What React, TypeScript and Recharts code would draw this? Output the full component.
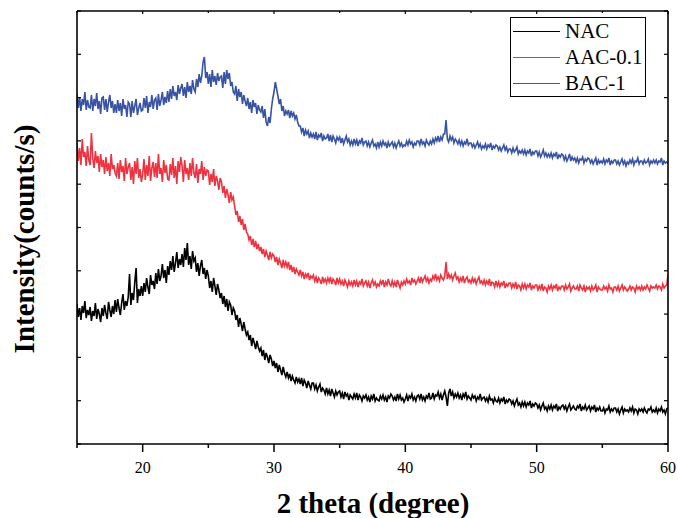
import React from 'react';
import { LineChart, Line, XAxis, YAxis, Legend, Customized } from 'recharts';

const twoTheta = [
  15, 15.1, 15.2, 15.3, 15.4, 15.5, 15.6, 15.7, 15.8, 15.9,
  16, 16.1, 16.2, 16.3, 16.4, 16.5, 16.6, 16.7, 16.8, 16.9,
  17, 17.1, 17.2, 17.3, 17.4, 17.5, 17.6, 17.7, 17.8, 17.9,
  18, 18.1, 18.2, 18.3, 18.4, 18.5, 18.6, 18.7, 18.8, 18.9,
  19, 19.1, 19.2, 19.3, 19.4, 19.5, 19.6, 19.7, 19.8, 19.9,
  20, 20.1, 20.2, 20.3, 20.4, 20.5, 20.6, 20.7, 20.8, 20.9,
  21, 21.1, 21.2, 21.3, 21.4, 21.5, 21.6, 21.7, 21.8, 21.9,
  22, 22.1, 22.2, 22.3, 22.4, 22.5, 22.6, 22.7, 22.8, 22.9,
  23, 23.1, 23.2, 23.3, 23.4, 23.5, 23.6, 23.7, 23.8, 23.9,
  24, 24.1, 24.2, 24.3, 24.4, 24.5, 24.6, 24.7, 24.8, 24.9,
  25, 25.1, 25.2, 25.3, 25.4, 25.5, 25.6, 25.7, 25.8, 25.9,
  26, 26.1, 26.2, 26.3, 26.4, 26.5, 26.6, 26.7, 26.8, 26.9,
  27, 27.1, 27.2, 27.3, 27.4, 27.5, 27.6, 27.7, 27.8, 27.9,
  28, 28.1, 28.2, 28.3, 28.4, 28.5, 28.6, 28.7, 28.8, 28.9,
  29, 29.1, 29.2, 29.3, 29.4, 29.5, 29.6, 29.7, 29.8, 29.9,
  30, 30.1, 30.2, 30.3, 30.4, 30.5, 30.6, 30.7, 30.8, 30.9,
  31, 31.1, 31.2, 31.3, 31.4, 31.5, 31.6, 31.7, 31.8, 31.9,
  32, 32.1, 32.2, 32.3, 32.4, 32.5, 32.6, 32.7, 32.8, 32.9,
  33, 33.1, 33.2, 33.3, 33.4, 33.5, 33.6, 33.7, 33.8, 33.9,
  34, 34.1, 34.2, 34.3, 34.4, 34.5, 34.6, 34.7, 34.8, 34.9,
  35, 35.1, 35.2, 35.3, 35.4, 35.5, 35.6, 35.7, 35.8, 35.9,
  36, 36.1, 36.2, 36.3, 36.4, 36.5, 36.6, 36.7, 36.8, 36.9,
  37, 37.1, 37.2, 37.3, 37.4, 37.5, 37.6, 37.7, 37.8, 37.9,
  38, 38.1, 38.2, 38.3, 38.4, 38.5, 38.6, 38.7, 38.8, 38.9,
  39, 39.1, 39.2, 39.3, 39.4, 39.5, 39.6, 39.7, 39.8, 39.9,
  40, 40.1, 40.2, 40.3, 40.4, 40.5, 40.6, 40.7, 40.8, 40.9,
  41, 41.1, 41.2, 41.3, 41.4, 41.5, 41.6, 41.7, 41.8, 41.9,
  42, 42.1, 42.2, 42.3, 42.4, 42.5, 42.6, 42.7, 42.8, 42.9,
  43, 43.1, 43.2, 43.3, 43.4, 43.5, 43.6, 43.7, 43.8, 43.9,
  44, 44.1, 44.2, 44.3, 44.4, 44.5, 44.6, 44.7, 44.8, 44.9,
  45, 45.1, 45.2, 45.3, 45.4, 45.5, 45.6, 45.7, 45.8, 45.9,
  46, 46.1, 46.2, 46.3, 46.4, 46.5, 46.6, 46.7, 46.8, 46.9,
  47, 47.1, 47.2, 47.3, 47.4, 47.5, 47.6, 47.7, 47.8, 47.9,
  48, 48.1, 48.2, 48.3, 48.4, 48.5, 48.6, 48.7, 48.8, 48.9,
  49, 49.1, 49.2, 49.3, 49.4, 49.5, 49.6, 49.7, 49.8, 49.9,
  50, 50.1, 50.2, 50.3, 50.4, 50.5, 50.6, 50.7, 50.8, 50.9,
  51, 51.1, 51.2, 51.3, 51.4, 51.5, 51.6, 51.7, 51.8, 51.9,
  52, 52.1, 52.2, 52.3, 52.4, 52.5, 52.6, 52.7, 52.8, 52.9,
  53, 53.1, 53.2, 53.3, 53.4, 53.5, 53.6, 53.7, 53.8, 53.9,
  54, 54.1, 54.2, 54.3, 54.4, 54.5, 54.6, 54.7, 54.8, 54.9,
  55, 55.1, 55.2, 55.3, 55.4, 55.5, 55.6, 55.7, 55.8, 55.9,
  56, 56.1, 56.2, 56.3, 56.4, 56.5, 56.6, 56.7, 56.8, 56.9,
  57, 57.1, 57.2, 57.3, 57.4, 57.5, 57.6, 57.7, 57.8, 57.9,
  58, 58.1, 58.2, 58.3, 58.4, 58.5, 58.6, 58.7, 58.8, 58.9,
  59, 59.1, 59.2, 59.3, 59.4, 59.5, 59.6, 59.7, 59.8, 59.9,
  60,
];

const nac = [
  140, 127, 136, 124, 138, 131, 143, 126, 134, 129,
  137, 123, 133, 128, 141, 125, 135, 130, 122, 136,
  128, 139, 131, 125, 142, 134, 127, 138, 130, 144,
  132, 145, 136, 129, 141, 150, 134, 143, 138, 147,
  170, 139, 151, 144, 162, 176, 141, 155, 148, 158,
  148, 161, 152, 166, 157, 150, 169, 159, 163, 155,
  171, 160, 175, 163, 168, 180, 166, 174, 161, 178,
  169, 183, 174, 188, 172, 181, 192, 176, 185, 179,
  190, 177, 196, 184, 201, 179, 188, 175, 193, 183,
  186, 172, 181, 168, 178, 184, 170, 176, 165, 174,
  168, 156, 163, 152, 166, 158, 149, 160, 154, 146,
  151, 140, 148, 137, 145, 133, 142, 139, 129, 136,
  133, 124, 129, 117, 126, 120, 113, 122, 115, 109,
  112, 104, 109, 98, 106, 101, 95, 103, 97, 93,
  96, 88, 94, 84, 91, 87, 81, 89, 85, 78,
  83, 76, 81, 72, 79, 74, 69, 77, 71, 67,
  72, 66, 70, 63, 68, 64, 61, 67, 62, 65,
  60, 66, 58, 64, 61, 56, 63, 59, 55, 61,
  61, 55, 59, 53, 57, 60, 52, 56, 54, 50,
  56, 50, 54, 48, 55, 51, 47, 53, 49, 52,
  53, 47, 51, 45, 52, 48, 50, 44, 49, 47,
  45, 50, 46, 51, 44, 49, 47, 43, 48, 46,
  49, 44, 47, 42, 48, 45, 50, 43, 46, 44,
  43, 48, 45, 49, 44, 47, 42, 48, 46, 50,
  48, 44, 47, 43, 50, 45, 49, 44, 46, 42,
  45, 49, 43, 48, 46, 50, 44, 47, 43, 48,
  49, 45, 50, 44, 47, 43, 48, 46, 51, 45,
  46, 51, 45, 49, 48, 52, 46, 50, 44, 49,
  53, 47, 38, 51, 55, 48, 52, 46, 50, 47,
  51, 46, 49, 44, 50, 47, 52, 45, 48, 46,
  44, 49, 46, 48, 43, 47, 45, 50, 44, 46,
  47, 43, 46, 42, 48, 44, 45, 41, 46, 43,
  42, 46, 41, 45, 43, 47, 40, 44, 42, 45,
  44, 40, 43, 38, 42, 45, 39, 41, 37, 42,
  38, 42, 37, 41, 39, 43, 36, 40, 38, 41,
  40, 36, 39, 34, 38, 41, 35, 37, 33, 38,
  35, 39, 34, 38, 36, 40, 33, 37, 35, 38,
  39, 35, 38, 33, 37, 40, 34, 36, 38, 35,
  34, 38, 36, 40, 33, 37, 35, 39, 34, 36,
  38, 33, 37, 35, 39, 32, 36, 34, 37, 33,
  33, 36, 31, 35, 34, 38, 32, 35, 33, 36,
  36, 32, 35, 30, 34, 37, 31, 35, 33, 34,
  32, 36, 33, 37, 31, 35, 34, 30, 35, 33,
  35, 32, 36, 33, 31, 35, 34, 37, 32, 34,
  32, 36, 31, 35, 33, 37, 32, 34, 30, 35,
  36,
];

const aac = [
  300, 283, 296, 279, 305, 287, 292, 278, 298, 284,
  279, 311, 285, 276, 293, 281, 288, 272, 290, 277,
  284, 270, 287, 273, 281, 268, 290, 275, 279, 271,
  268, 281, 265, 284, 272, 278, 263, 286, 270, 277,
  281, 264, 277, 260, 283, 270, 286, 266, 275, 262,
  270, 285, 264, 279, 268, 288, 263, 276, 282, 267,
  281, 266, 290, 270, 276, 262, 284, 271, 279, 265,
  264, 280, 269, 286, 266, 278, 260, 283, 272, 287,
  278, 262, 284, 270, 276, 264, 281, 268, 286, 271,
  266, 280, 261, 275, 270, 283, 264, 277, 268, 274,
  273, 259, 270, 262, 275, 258, 268, 263, 254, 266,
  262, 251, 258, 246, 255, 249, 241, 252, 244, 247,
  238, 229, 233, 222, 228, 219, 225, 214, 220, 212,
  210, 204, 208, 199, 205, 197, 203, 195, 200, 193,
  197, 190, 195, 187, 193, 189, 184, 192, 186, 190,
  188, 182, 187, 179, 185, 181, 176, 184, 178, 182,
  177, 182, 174, 179, 172, 177, 170, 175, 172, 169,
  174, 168, 172, 165, 170, 167, 171, 164, 168, 166,
  169, 163, 167, 161, 166, 164, 160, 167, 162, 165,
  161, 166, 162, 167, 160, 165, 163, 159, 166, 161,
  165, 160, 163, 158, 164, 161, 157, 163, 159, 162,
  158, 164, 159, 163, 157, 162, 160, 165, 158, 161,
  163, 158, 162, 156, 161, 164, 159, 162, 157, 160,
  158, 163, 160, 164, 157, 162, 159, 165, 160, 158,
  163, 158, 162, 157, 164, 160, 156, 162, 159, 163,
  160, 165, 161, 163, 159, 166, 162, 164, 160, 163,
  166, 161, 167, 162, 165, 168, 163, 166, 161, 165,
  163, 168, 165, 170, 164, 167, 163, 169, 166, 164,
  168, 182, 165, 170, 166, 169, 164, 168, 171, 165,
  167, 162, 166, 163, 168, 161, 165, 167, 162, 164,
  161, 166, 162, 165, 160, 164, 167, 161, 163, 160,
  164, 159, 163, 160, 165, 158, 162, 161, 157, 163,
  158, 162, 157, 161, 159, 163, 156, 160, 158, 161,
  161, 156, 160, 157, 162, 155, 159, 158, 154, 160,
  156, 160, 155, 159, 157, 161, 154, 158, 156, 159,
  159, 154, 158, 155, 160, 153, 157, 156, 152, 158,
  155, 159, 154, 158, 156, 160, 153, 157, 155, 158,
  158, 154, 159, 155, 157, 160, 153, 156, 158, 155,
  155, 158, 153, 159, 156, 154, 158, 152, 157, 155,
  157, 153, 158, 154, 156, 159, 152, 157, 155, 154,
  154, 158, 155, 157, 153, 159, 155, 156, 152, 157,
  157, 154, 158, 153, 156, 159, 154, 157, 155, 153,
  155, 158, 154, 157, 156, 152, 158, 155, 157, 154,
  158, 154, 157, 155, 159, 156, 153, 158, 156, 157,
  156, 159, 155, 158, 157, 154, 160, 156, 158, 159,
  169,
];

const bac = [
  350, 336, 347, 333, 345, 339, 352, 334, 344, 337,
  336, 349, 333, 345, 338, 351, 335, 343, 330, 346,
  347, 334, 345, 332, 342, 349, 336, 343, 331, 340,
  331, 344, 333, 341, 328, 345, 335, 339, 327, 342,
  340, 327, 343, 331, 338, 345, 329, 336, 341, 333,
  334, 346, 336, 348, 331, 342, 337, 349, 335, 344,
  346, 334, 350, 338, 344, 352, 339, 347, 341, 353,
  342, 355, 345, 358, 348, 352, 344, 359, 350, 356,
  360, 348, 357, 346, 362, 352, 358, 350, 364, 355,
  352, 365, 357, 370, 361, 368, 382, 387, 366, 372,
  360, 370, 357, 374, 362, 368, 359, 371, 363, 367,
  368, 356, 372, 360, 374, 365, 371, 358, 362, 352,
  350, 358, 343, 355, 347, 352, 340, 349, 343, 338,
  346, 335, 342, 331, 344, 337, 341, 330, 339, 334,
  332, 338, 326, 335, 322, 318, 327, 321, 335, 345,
  352, 362, 355, 348, 340, 345, 333, 338, 328, 333,
  330, 334, 326, 333, 328, 331, 325, 329, 322, 318,
  318, 312, 316, 308, 314, 310, 313, 306, 311, 307,
  310, 305, 312, 304, 309, 307, 311, 303, 308, 305,
  306, 310, 303, 309, 302, 308, 305, 301, 307, 304,
  307, 301, 306, 300, 304, 308, 302, 305, 299, 303,
  299, 305, 300, 304, 298, 303, 301, 306, 299, 302,
  303, 298, 302, 297, 301, 304, 298, 300, 296, 302,
  297, 302, 298, 303, 299, 301, 296, 302, 298, 300,
  302, 297, 301, 296, 300, 303, 298, 301, 297, 299,
  298, 303, 299, 304, 300, 302, 297, 301, 299, 303,
  303, 299, 305, 300, 302, 298, 304, 301, 299, 303,
  300, 305, 301, 306, 303, 308, 302, 307, 304, 310,
  310, 324, 305, 302, 308, 304, 307, 301, 305, 303,
  300, 304, 299, 303, 298, 302, 300, 305, 299, 301,
  301, 297, 300, 296, 299, 302, 297, 300, 295, 298,
  296, 300, 295, 299, 297, 301, 294, 298, 296, 299,
  298, 294, 297, 293, 296, 299, 294, 297, 292, 295,
  295, 291, 296, 292, 294, 297, 290, 293, 291, 294,
  290, 294, 289, 293, 291, 295, 288, 292, 290, 293,
  293, 288, 292, 287, 290, 294, 288, 291, 287, 290,
  287, 291, 286, 290, 288, 292, 285, 289, 287, 290,
  289, 284, 288, 283, 286, 290, 283, 287, 284, 286,
  282, 286, 281, 285, 284, 287, 281, 285, 283, 286,
  285, 281, 284, 280, 283, 286, 279, 284, 281, 283,
  281, 285, 280, 284, 282, 286, 279, 283, 281, 284,
  284, 280, 283, 279, 282, 285, 280, 283, 278, 282,
  280, 284, 281, 285, 279, 283, 282, 286, 280, 283,
  283, 280, 284, 281, 282, 285, 279, 283, 281, 284,
  281, 284, 280, 283, 282, 286, 279, 283, 281, 282,
  281,
];

const xTicks = [15, 20, 25, 30, 35, 40, 45, 50, 55, 60];
const yTicks = [0, 43.3, 86.6, 129.9, 173.2, 216.5, 259.8, 303.1, 346.4, 389.7, 433];
const seriesNames = ['NAC', 'AAC-0.1', 'BAC-1'];
const seriesColors = ['#000000', '#EE3340', '#3953A4'];
const xTitle = '2 theta (degree)';
const yTitle = 'Intensity(counts/s)';

const FONT = '"Liberation Serif", "Times New Roman", serif';

const data = twoTheta.map((t, i) => ({ t, nac: nac[i], aac: aac[i], bac: bac[i] }));

const BottomTick = (props: any) => {
  const { x, y, payload } = props;
  const major = payload.value % 10 === 0;
  return (
    <g>
      <line x1={x} x2={x} y1={y} y2={y + (major ? 8 : 4)} stroke="#000" strokeWidth={1.5} />
      {major && (
        <text x={x} y={y + 29} textAnchor="middle" fontFamily={FONT} fontSize={16} fill="#000">
          {payload.value}
        </text>
      )}
    </g>
  );
};

const TopTick = (props: any) => {
  const { x, y, payload } = props;
  const major = payload.value % 10 === 0;
  return <line x1={x} x2={x} y1={y} y2={y + (major ? 3 : 2)} stroke="#000" strokeWidth={1.2} />;
};

const LeftTick = (props: any) => {
  const { x, y } = props;
  return <line x1={x} x2={x + 4} y1={y} y2={y} stroke="#000" strokeWidth={1.2} />;
};

const RightTick = (props: any) => {
  const { x, y } = props;
  return <line x1={x} x2={x - 4} y1={y} y2={y} stroke="#000" strokeWidth={1.2} />;
};

const LegendBox = () => (
  <div
    style={{
      boxSizing: 'border-box',
      width: 136,
      height: 80,
      border: '1.3px solid #000',
      background: '#fff',
      padding: '0 0 0 2px',
      fontFamily: FONT,
      fontSize: 21,
      color: '#000',
    }}
  >
    {seriesNames.map((name, i) => (
      <div key={name} style={{ display: 'flex', alignItems: 'center', height: 26, lineHeight: '26px' }}>
        <span
          style={{
            display: 'inline-block',
            width: 47,
            height: 0,
            borderTop: `1.5px solid ${seriesColors[i]}`,
            marginRight: 5,
          }}
        />
        <span>{name}</span>
      </div>
    ))}
  </div>
);

const Titles = () => (
  <g>
    <text x={373} y={513} textAnchor="middle" fontFamily={FONT} fontWeight="bold" fontSize={29} fill="#000">
      {xTitle}
    </text>
    <text
      x={34}
      y={239}
      transform="rotate(-90, 34, 239)"
      textAnchor="middle"
      fontFamily={FONT}
      fontWeight="bold"
      fontSize={29}
      fill="#000"
    >
      {yTitle}
    </text>
  </g>
);

export default function App() {
  return (
    <div style={{ position: 'absolute', left: 0, top: 0, width: 678, height: 518, background: '#fff' }}>
      <LineChart width={678} height={518} data={data} margin={{ top: 10, right: 9, bottom: 73, left: 76 }}>
        <XAxis
          dataKey="t"
          type="number"
          domain={[15, 60]}
          ticks={xTicks}
          interval={0}
          height={1}
          tickSize={0}
          tickMargin={0}
          tick={<BottomTick />}
          axisLine={{ stroke: '#000', strokeWidth: 1.6 }}
          allowDataOverflow
        />
        <XAxis
          xAxisId="top"
          orientation="top"
          dataKey="t"
          type="number"
          domain={[15, 60]}
          ticks={xTicks}
          interval={0}
          height={1}
          tickSize={0}
          tickMargin={0}
          tick={<TopTick />}
          axisLine={{ stroke: '#000', strokeWidth: 1.6 }}
          allowDataOverflow
        />
        <YAxis
          type="number"
          domain={[0, 433]}
          ticks={yTicks}
          interval={0}
          width={1}
          tickSize={0}
          tickMargin={0}
          tick={<LeftTick />}
          axisLine={{ stroke: '#000', strokeWidth: 1.6 }}
          allowDataOverflow
        />
        <YAxis
          yAxisId="right"
          orientation="right"
          type="number"
          domain={[0, 433]}
          ticks={yTicks}
          interval={0}
          width={1}
          tickSize={0}
          tickMargin={0}
          tick={<RightTick />}
          axisLine={{ stroke: '#000', strokeWidth: 1.6 }}
          allowDataOverflow
        />
        <Line dataKey="nac" name={seriesNames[0]} stroke={seriesColors[0]} strokeWidth={1.6} dot={false} isAnimationActive={false} type="linear" />
        <Line dataKey="aac" name={seriesNames[1]} stroke={seriesColors[1]} strokeWidth={1.6} dot={false} isAnimationActive={false} type="linear" />
        <Line dataKey="bac" name={seriesNames[2]} stroke={seriesColors[2]} strokeWidth={1.6} dot={false} isAnimationActive={false} type="linear" />
        <Legend
          layout="horizontal"
          verticalAlign="middle"
          align="center"
          content={<LegendBox />}
          wrapperStyle={{ top: 17, left: 510, width: 136, height: 80 }}
        />
        <Customized component={Titles} />
      </LineChart>
    </div>
  );
}
